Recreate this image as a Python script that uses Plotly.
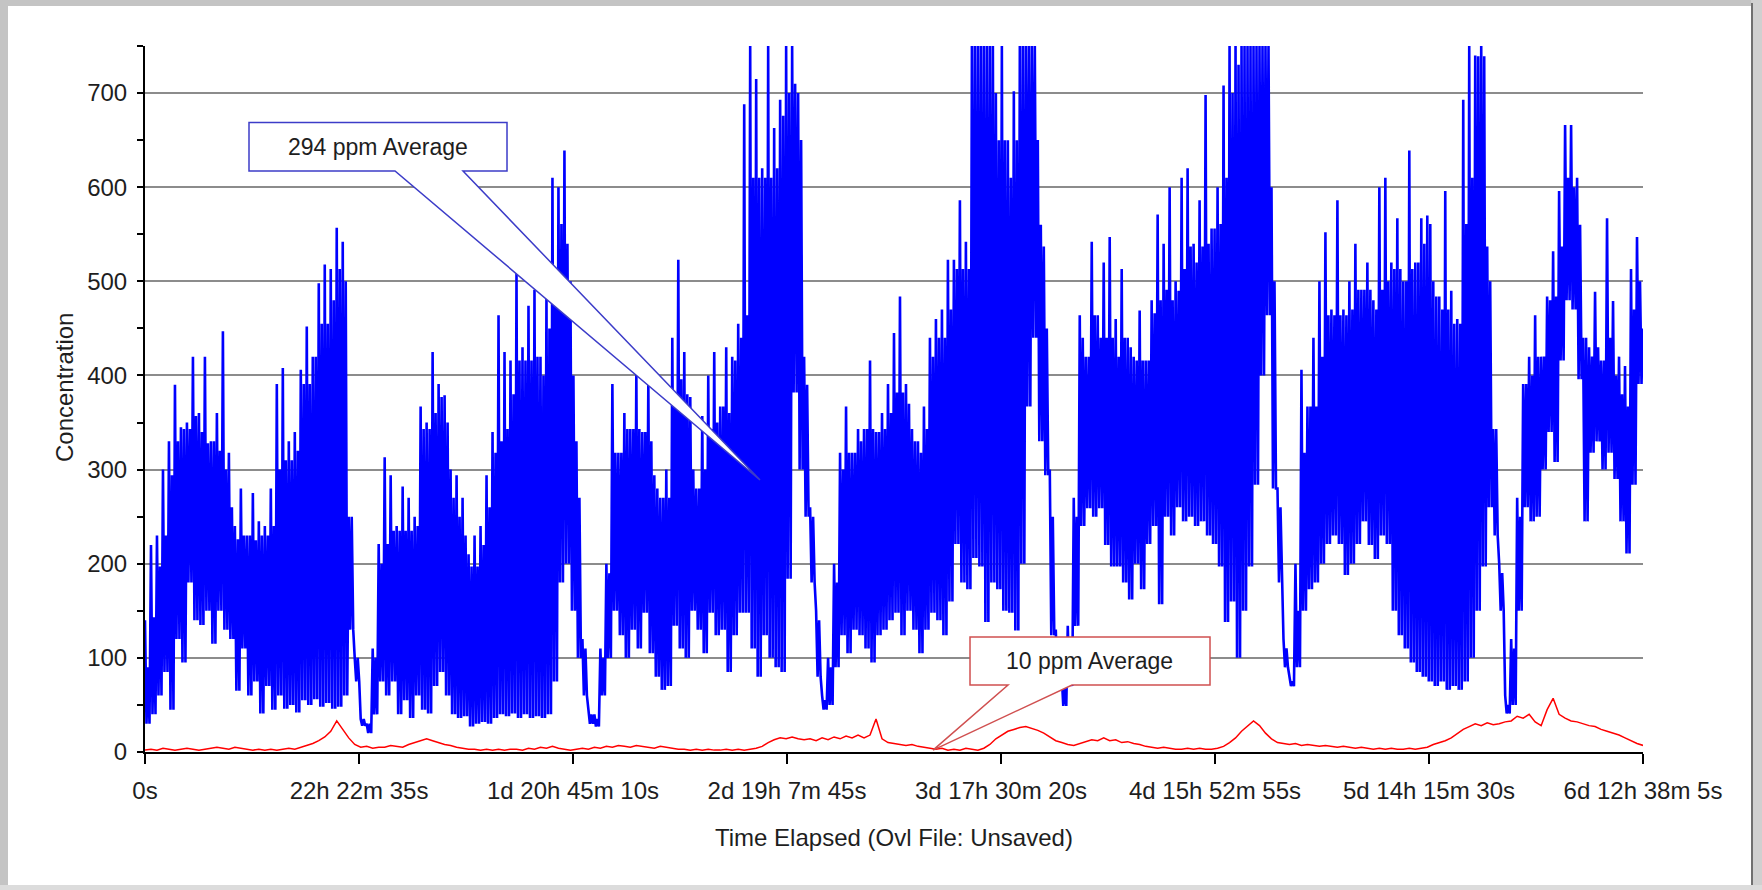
import numpy as np
import plotly.graph_objects as go

# ---------------- data ----------------
T_END = 563885  # 6d 12h 38m 5s in seconds

x_tickvals = [0, 80555, 161110, 241665, 322220, 402775, 483330, 563885]
x_ticktext = ["0s", "22h 22m 35s", "1d 20h 45m 10s", "2d 19h 7m 45s",
              "3d 17h 30m 20s", "4d 15h 52m 55s", "5d 14h 15m 30s", "6d 12h 38m 5s"]
y_tickvals = [0, 100, 200, 300, 400, 500, 600, 700]
y_minorvals = [50, 150, 250, 350, 450, 550, 650, 750]

# blue sensor, per sampling column: spike peak, trough, and top of the dense band (ppm)
blue_hi = [
    140, 220, 230, 300, 330, 390, 345, 350, 420, 360,
    420, 330, 360, 447, 318, 240, 280, 230, 275, 245,
    240, 280, 391, 408, 330, 340, 406, 452, 420, 498,
    518, 513, 557, 542, 250, 100, 35, 30, 110, 221,
    313, 294, 240, 282, 270, 250, 367, 350, 425, 391,
    379, 300, 294, 270, 210, 230, 240, 294, 340, 464,
    425, 416, 509, 430, 474, 491, 420, 484, 610, 600,
    639, 500, 330, 120, 45, 40, 110, 200, 391, 318,
    360, 343, 401, 340, 391, 294, 270, 300, 440, 523,
    425, 377, 280, 357, 400, 425, 367, 430, 420, 455,
    688, 750, 715, 620, 750, 663, 693, 750, 750, 700,
    420, 260, 150, 60, 100, 200, 318, 367, 318, 343,
    343, 416, 340, 360, 391, 445, 484, 391, 343, 330,
    367, 440, 460, 470, 523, 523, 586, 542, 750, 750,
    750, 750, 700, 750, 650, 702, 750, 750, 750, 650,
    537, 300, 130, 80, 134, 270, 464, 420, 542, 464,
    520, 547, 460, 513, 440, 420, 469, 416, 480, 571,
    540, 600, 500, 610, 620, 540, 586, 698, 556, 600,
    708, 750, 750, 750, 750, 750, 750, 750, 600, 280,
    120, 80, 200, 406, 367, 440, 500, 552, 470, 586,
    470, 500, 540, 491, 520, 480, 600, 610, 520, 567,
    500, 639, 520, 567, 570, 500, 484, 596, 490, 460,
    693, 750, 740, 750, 537, 343, 200, 60, 120, 270,
    391, 420, 464, 420, 484, 532, 596, 666, 666, 610,
    440, 430, 489, 416, 567, 479, 420, 410, 513, 547,
]
blue_lo = [
    30, 40, 60, 85, 45, 120, 95, 180, 140, 135,
    150, 115, 150, 130, 120, 65, 110, 60, 75, 41,
    70, 45, 60, 46, 50, 42, 55, 50, 56, 48,
    52, 46, 48, 60, 130, 75, 28, 20, 40, 75,
    60, 75, 40, 55, 36, 60, 45, 41, 70, 85,
    60, 40, 36, 38, 27, 30, 32, 30, 36, 40,
    38, 41, 36, 40, 36, 38, 36, 40, 75, 180,
    200, 150, 100, 60, 30, 27, 60, 100, 150, 124,
    100, 130, 110, 148, 105, 80, 66, 70, 134, 110,
    100, 150, 130, 105, 148, 124, 130, 85, 124, 148,
    148, 110, 80, 124, 100, 90, 85, 184, 382, 300,
    250, 180, 80, 45, 50, 90, 124, 105, 130, 124,
    110, 95, 124, 130, 140, 148, 124, 150, 130, 105,
    130, 148, 140, 124, 160, 221, 180, 173, 206, 197,
    138, 180, 173, 150, 148, 129, 200, 367, 440, 330,
    294, 124, 75, 49, 70, 134, 240, 259, 250, 259,
    220, 197, 197, 180, 162, 200, 173, 221, 240, 157,
    250, 230, 260, 245, 250, 240, 245, 230, 221, 197,
    138, 160, 100, 150, 197, 284, 400, 464, 280, 180,
    90, 70, 90, 150, 173, 180, 200, 221, 230, 221,
    188, 200, 221, 245, 220, 205, 230, 221, 150, 124,
    110, 95, 85, 80, 75, 70, 75, 66, 70, 66,
    75, 100, 150, 197, 260, 230, 150, 41, 50, 150,
    260, 245, 250, 300, 340, 308, 416, 480, 470, 396,
    245, 318, 330, 300, 318, 290, 245, 211, 284, 391,
]
blue_band = [
    90, 143, 197, 230, 294, 330, 343, 343, 357, 340,
    328, 330, 320, 300, 260, 226, 230, 230, 225, 230,
    230, 240, 300, 310, 310, 320, 391, 391, 420, 455,
    455, 480, 513, 500, 250, 100, 35, 30, 100, 200,
    221, 235, 235, 235, 235, 240, 343, 343, 360, 377,
    350, 270, 250, 230, 197, 197, 220, 260, 318, 330,
    343, 380, 416, 416, 416, 420, 400, 450, 500, 561,
    540, 400, 270, 110, 40, 35, 100, 190, 318, 318,
    343, 343, 343, 340, 330, 280, 270, 270, 380, 396,
    380, 300, 280, 300, 343, 350, 367, 360, 416, 440,
    464, 610, 610, 610, 610, 620, 676, 700, 710, 650,
    390, 250, 140, 55, 90, 180, 300, 318, 318, 330,
    343, 343, 340, 343, 360, 382, 382, 370, 330, 318,
    343, 420, 440, 440, 470, 513, 513, 513, 750, 750,
    750, 750, 650, 650, 610, 650, 750, 750, 750, 560,
    450, 250, 110, 70, 120, 250, 440, 420, 464, 440,
    440, 440, 420, 440, 430, 416, 416, 416, 466, 480,
    491, 480, 490, 513, 537, 520, 537, 540, 556, 561,
    610, 700, 730, 750, 750, 750, 750, 750, 500, 260,
    110, 75, 150, 318, 367, 367, 420, 464, 464, 464,
    464, 470, 491, 491, 491, 470, 491, 500, 513, 513,
    500, 513, 520, 540, 561, 484, 470, 470, 455, 455,
    561, 610, 739, 739, 500, 343, 190, 50, 110, 250,
    391, 400, 420, 420, 480, 484, 537, 610, 600, 560,
    440, 420, 430, 416, 440, 400, 380, 367, 470, 500,
]
blue_last = 450

# red sensor (ppm)
red_vals = [
    2, 3, 2, 4, 3, 2, 3, 4, 3, 2,
    3, 4, 5, 4, 3, 5, 4, 3, 2, 3,
    2, 3, 2, 3, 4, 3, 5, 7, 9, 12,
    16, 22, 33, 24, 15, 8, 5, 6, 4, 5,
    5, 7, 6, 5, 8, 10, 12, 14, 12, 10,
    8, 7, 5, 4, 3, 3, 2, 3, 2, 3,
    2, 3, 3, 2, 4, 3, 5, 4, 6, 4,
    3, 2, 3, 4, 3, 5, 4, 6, 5, 7,
    6, 5, 7, 6, 5, 4, 6, 5, 4, 3,
    3, 2, 3, 2, 3, 2, 2, 3, 2, 3,
    2, 3, 4, 6, 10, 13, 15, 14, 16, 14,
    13, 14, 12, 15, 13, 16, 14, 17, 15, 18,
    15, 18, 35, 14, 10, 9, 8, 7, 8, 6,
    5, 4, 3, 4, 2, 3, 2, 4, 3, 2,
    4, 8, 14, 18, 22, 24, 26, 27, 25, 23,
    20, 16, 12, 10, 8, 7, 9, 11, 13, 12,
    15, 12, 13, 10, 11, 9, 8, 6, 5, 4,
    5, 4, 3, 3, 4, 3, 4, 3, 3, 4,
    6, 10, 15, 22, 28, 33, 28, 20, 14, 10,
    9, 8, 9, 7, 8, 7, 6, 7, 6, 5,
    6, 5, 4, 5, 4, 3, 4, 3, 4, 3,
    3, 4, 3, 4, 5, 8, 10, 12, 15, 20,
    24, 27, 30, 28, 31, 29, 30, 32, 33, 38,
    36, 40, 32, 28, 45, 57, 40, 36, 33, 32,
    30, 28, 27, 24, 22, 20, 18, 15, 12, 9,
    7,
]

# callout texts
blue_label = "294 ppm Average"
red_label = "10 ppm Average"

# ---------------- build traces ----------------
blue_y = []
for h, l, b in zip(blue_hi, blue_lo, blue_band):
    blue_y += [h, l, b, l]
blue_y.append(blue_last)
blue_x = np.linspace(0, T_END, len(blue_y))
red_x = np.linspace(0, T_END, len(red_vals))

fig = go.Figure()
fig.add_trace(go.Scatter(x=blue_x, y=blue_y, mode="lines",
                         line=dict(color="#0000ff", width=2.6), hoverinfo="skip",
                         showlegend=False))
fig.add_trace(go.Scatter(x=red_x, y=red_vals, mode="lines",
                         line=dict(color="#ff0000", width=1.5), hoverinfo="skip",
                         showlegend=False))

FONT = "Liberation Sans, Arial, sans-serif"
TXT = "#1e1e1e"

# callouts (box + pointer wedge, in data coordinates)
def callout(x0, x1, ytop, ybot, wl, wr, tipx, tipy, color):
    path = (f"M {x0},{ytop} L {x1},{ytop} L {x1},{ybot} L {wr},{ybot} "
            f"L {tipx},{tipy} L {wl},{ybot} L {x0},{ybot} Z")
    return dict(type="path", path=path, xref="x", yref="y", layer="above",
                fillcolor="white", line=dict(color=color, width=1.5))

shapes = [
    callout(39149, 136268, 668.6, 617.2, 94108, 119705, 231504, 289, "#3c3cc8"),
    callout(310555, 400898, 122.2, 71.2, 324859, 348951, 296627, 2, "#d05050"),
]

# window frame around the chart (paper coords)
def pr(px):
    return (px - 145) / 1498
def py(pyv):
    return (752 - pyv) / 706

shapes += [
    dict(type="rect", xref="paper", yref="paper", x0=pr(-2), x1=pr(8), y0=py(892), y1=py(-2),
         fillcolor="#c4c4c4", line=dict(width=0), layer="above"),
    dict(type="rect", xref="paper", yref="paper", x0=pr(-2), x1=pr(1764), y0=py(6), y1=py(-2),
         fillcolor="#c4c4c4", line=dict(width=0), layer="above"),
    dict(type="rect", xref="paper", yref="paper", x0=pr(1751), x1=pr(1764), y0=py(892), y1=py(-2),
         fillcolor="#d0d0d0", line=dict(width=0), layer="above"),
    dict(type="line", xref="paper", yref="paper", x0=pr(1752), x1=pr(1752), y0=py(892), y1=py(3),
         line=dict(color="#707070", width=2), layer="above"),
    dict(type="rect", xref="paper", yref="paper", x0=pr(-2), x1=pr(1764), y0=py(892), y1=py(885),
         fillcolor="#dcdcdc", line=dict(width=0), layer="above"),
]

annotations = [
    dict(x=87700, y=643, xref="x", yref="y", text=blue_label, showarrow=False,
         font=dict(family=FONT, size=23, color=TXT)),
    dict(x=355700, y=96.7, xref="x", yref="y", text=red_label, showarrow=False,
         font=dict(family=FONT, size=23, color=TXT)),
    dict(x=0.5, y=py(837), xref="paper", yref="paper", text="Time Elapsed (Ovl File: Unsaved)",
         showarrow=False, yanchor="middle", font=dict(family=FONT, size=24, color=TXT)),
    dict(x=pr(64), y=py(388), xref="paper", yref="paper", text="Concentration", textangle=-90,
         showarrow=False, xanchor="center", yanchor="middle", font=dict(family=FONT, size=24, color=TXT)),
]

fig.update_layout(
    width=1762, height=890,
    margin=dict(l=145, r=119, t=46, b=138, autoexpand=False),
    paper_bgcolor="white", plot_bgcolor="white",
    font=dict(family=FONT, size=24, color=TXT),
    shapes=shapes, annotations=annotations,
    xaxis=dict(range=[0, T_END], tickvals=x_tickvals, ticktext=x_ticktext,
               ticks="outside", ticklen=10, tickwidth=2, tickcolor="black",
               showline=True, linewidth=2, linecolor="black", automargin=False,
               showgrid=False, zeroline=False, ticklabelstandoff=6,
               tickfont=dict(family=FONT, size=24, color=TXT)),
    yaxis=dict(range=[0, 750], tickvals=y_tickvals,
               ticks="outside", ticklen=6, tickwidth=2, tickcolor="black",
               showline=True, linewidth=2, linecolor="black", automargin=False,
               showgrid=True, gridcolor="#8c8c8c", gridwidth=2, zeroline=False,
               ticklabelstandoff=5,
               minor=dict(tickvals=y_minorvals, ticks="outside", ticklen=6,
                          tickwidth=2, tickcolor="black", showgrid=False),
               tickfont=dict(family=FONT, size=24, color=TXT)),
    xaxis2=dict(overlaying="x", anchor="y", range=[0, T_END], tickvals=x_tickvals,
                ticks="inside", ticklen=10, tickwidth=2, tickcolor="black", automargin=False,
                showticklabels=False, showgrid=False, zeroline=False, showline=False),
    yaxis2=dict(overlaying="y", anchor="x", side="left", range=[0, 750], tickvals=y_tickvals,
                ticks="inside", ticklen=6, tickwidth=2, tickcolor="black", automargin=False,
                showticklabels=False, showgrid=False, zeroline=False, showline=False,
                minor=dict(tickvals=y_minorvals, ticks="inside", ticklen=6,
                           tickwidth=2, tickcolor="black", showgrid=False)),
)

fig.write_html("out.html", config={"displayModeBar": False},
               post_script="document.body.style.margin='0';document.body.style.padding='0';")
